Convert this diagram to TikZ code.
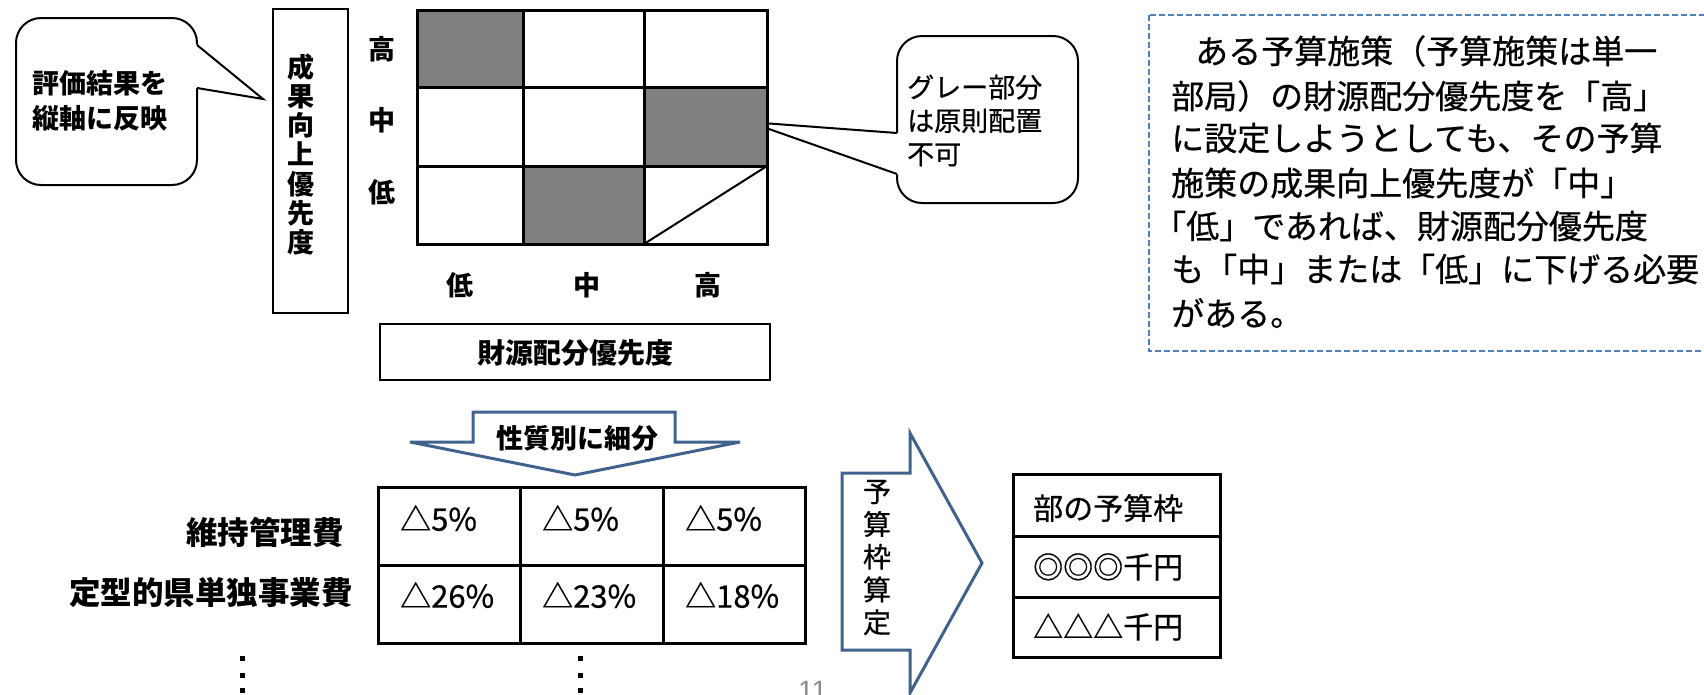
\documentclass[tikz,border=0pt]{standalone}
\usepackage{fontspec}
\setmainfont{Noto Sans CJK JP}
\newfontfamily\jpmid[FakeBold=0.6]{Noto Sans CJK JP}
\newfontfamily\pgnumfont{Liberation Sans}
\definecolor{arrowblue}{RGB}{65,98,140}
\definecolor{dashblue}{RGB}{79,129,189}
\definecolor{cellgray}{RGB}{128,128,128}
\begin{document}
\begin{tikzpicture}[x=1pt,y=-1pt,
  frameline/.style={draw=black, line width=2pt},
  gridline/.style={draw=black, line width=3pt},
  bubble/.style={draw=black, line width=2pt, fill=white, rounded corners=25pt},
  blockarrow/.style={draw=arrowblue, line width=3pt, fill=white, line join=miter},
  boldlab/.style={font=\bfseries\fontsize{27}{27}\selectfont, inner sep=0pt},
  celltext/.style={font=\jpmid\fontsize{31}{31}\selectfont, inner sep=0pt, anchor=west},
  tabletext/.style={font=\jpmid\fontsize{30}{30}\selectfont, inner sep=0pt, anchor=west},
  notetext/.style={font=\jpmid\fontsize{33}{33}\selectfont, inner sep=0pt, anchor=west},
  rowlab/.style={font=\bfseries\fontsize{31.5}{31.5}\selectfont, inner sep=0pt, anchor=east},
  dotmark/.style={fill=black}
]
\useasboundingbox (0,0) rectangle (1704,694);

% ---------- left callout ----------
\draw[bubble] (16,18) rectangle (197,185);
\fill[white] (194,42.5) -- (263,99) -- (194,87.5) -- cycle;
\coordinate (lctip) at (263,99);
\draw[line width=2pt, line join=miter] (197,45) -- (lctip) -- (197,88);
\node[font=\bfseries\fontsize{27}{35}\selectfont, inner sep=0pt, align=left, anchor=west]
  (lcText) at (32,100.5) {評価結果を\\縦軸に反映};

% ---------- vertical axis box ----------
\draw[frameline] (273,9) rectangle (348,313);
\node[font=\bfseries\fontsize{27}{29.2}\selectfont, inner sep=0pt, align=center]
  (vAxis) at (301,154.5) {成\\果\\向\\上\\優\\先\\度};

% ---------- row / column labels ----------
\node[boldlab] (rHigh) at (382,49.5) {高};
\node[boldlab] (rMid)  at (382,120) {中};
\node[boldlab] (rLow)  at (382,192) {低};
\node[boldlab] (cLow)  at (460,285) {低};
\node[boldlab] (cMid)  at (587,285) {中};
\node[boldlab] (cHigh) at (708,285) {高};

% ---------- right callout (drawn under the grid) ----------
\draw[bubble] (897,36) rectangle (1078,203);
\fill[white] (749,122) -- (900,133.2) -- (900,175.05) -- cycle;
\coordinate (rctip) at (749,122);
\draw[line width=2pt, line join=miter] (897,133) -- (rctip) -- (897,174);
\node[font=\jpmid\fontsize{27}{33.5}\selectfont, inner sep=0pt, align=left, anchor=west]
  (rcText) at (907,120.5) {グレー部分\\は原則配置\\不可};

% ---------- top matrix ----------
\fill[cellgray] (417,10) rectangle (523,87);
\fill[cellgray] (644,87) rectangle (767,166);
\fill[cellgray] (523,166) rectangle (644,244);
\draw[gridline] (417,10) rectangle (767,244);
\draw[gridline] (523,10) -- (523,244);
\draw[gridline] (644,10) -- (644,244);
\draw[gridline] (417,87) -- (767,87);
\draw[gridline] (417,166) -- (767,166);
\draw[line width=2pt] (644,244) -- (767,166);

% ---------- horizontal axis box ----------
\draw[frameline] (380,324) rectangle (770,380);
\node[font=\bfseries\fontsize{28}{28}\selectfont, inner sep=0pt] (hAxis) at (575,353) {財源配分優先度};

% ---------- down block arrow ----------
\draw[blockarrow] (473,412) -- (675,412) -- (675,442) -- (740,442) -- (575,475)
  -- (410,442) -- (473,442) -- cycle;
\node[boldlab] (splitText) at (577,438) {性質別に細分};

% ---------- bottom table ----------
\draw[gridline] (378,487) rectangle (805,643);
\draw[gridline] (520,487) -- (520,643);
\draw[gridline] (663,487) -- (663,643);
\draw[gridline] (378,565) -- (805,565);
\node[celltext] (a1) at (400,518) {△5\%};
\node[celltext] (a2) at (542,518) {△5\%};
\node[celltext] (a3) at (685,518) {△5\%};
\node[celltext] (b1) at (400,595) {△26\%};
\node[celltext] (b2) at (542,595) {△23\%};
\node[celltext] (b3) at (685,595) {△18\%};

\node[rowlab] (rowA) at (344,532) {維持管理費};
\node[rowlab] (rowB) at (353,593) {定型的県単独事業費};

% vertical ellipsis dots
\foreach \yy in {658,675,690} {
  \fill[dotmark] (239.5,\yy-2.5) rectangle (244.5,\yy+2.5);
  \fill[dotmark] (577.5,\yy-2.5) rectangle (582.5,\yy+2.5);
}

% ---------- right block arrow ----------
\draw[blockarrow] (842,473) -- (910,473) -- (910,433) -- (982,563) -- (910,693)
  -- (910,650) -- (842,650) -- cycle;
\node[font=\jpmid\fontsize{28}{32.7}\selectfont, inner sep=0pt, align=center]
  (calcText) at (877,557.5) {予\\算\\枠\\算\\定};

% ---------- budget table ----------
\draw[gridline] (1013,474) rectangle (1220,657);
\draw[gridline] (1013,536) -- (1220,536);
\draw[gridline] (1013,597) -- (1220,597);
\node[tabletext] (c1) at (1033,508) {部の予算枠};
\node[tabletext] (c2) at (1033,567) {◎◎◎千円};
\node[tabletext] (c3) at (1033,627) {△△△千円};

% ---------- dashed note ----------
\draw[dashblue, line width=1.5pt, dash pattern=on 6pt off 3pt] (1149,15) rectangle (1730,351);
\node[notetext] (t1) at (1195,51) {ある予算施策（予算施策は単一};
\node[notetext] (t2) at (1171,96) {部局）の財源配分優先度を「高」};
\node[notetext] (t3) at (1171,138) {に設定しようとしても、その予算};
\node[notetext] (t4) at (1171,183) {施策の成果向上優先度が「中」};
\node[notetext] (t5) at (1153,226) {「低」であれば、財源配分優先度};
\node[notetext] (t6) at (1171,269) {も「中」または「低」に下げる必要};
\node[notetext] (t7) at (1171,313) {がある。};

% ---------- page number (cut by the page edge) ----------
\node[font=\pgnumfont\fontsize{28}{28}\selectfont, text=black!45, inner sep=0pt, anchor=base west]
  (pageNo) at (798,700) {11};
\end{tikzpicture}
\end{document}
